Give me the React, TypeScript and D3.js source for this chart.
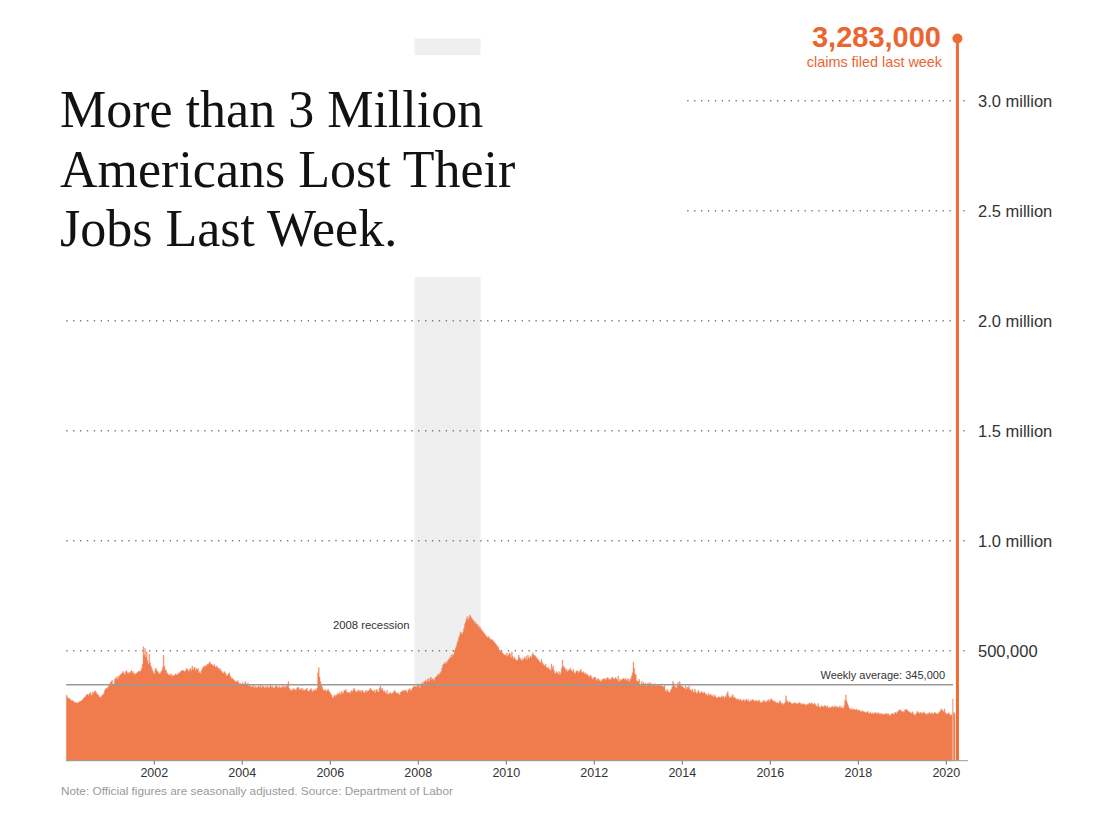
import { useEffect, useRef } from "react"
import * as d3 from "d3"

// Weekly initial jobless claims, thousands, seasonally adjusted
const claims2000 = [298, 290, 283, 285, 280, 276, 272, 275, 270, 268, 265, 262, 266, 262, 264, 268, 271, 270, 274, 278, 284, 288, 290, 296, 300, 303, 298, 305, 310, 302, 298, 312, 308, 315, 318, 310, 305, 300, 296, 290, 288, 292, 296, 300, 305, 318, 325, 330, 328, 335, 342, 348, 355]
const claims2001 = [360, 365, 345, 350, 370, 375, 380, 370, 385, 378, 388, 392, 395, 400, 405, 398, 392, 405, 410, 400, 398, 402, 398, 405, 410, 400, 405, 395, 392, 398, 398, 402, 405, 408, 405, 410, 420, 440, 518, 480, 510, 470, 495, 455, 440, 485, 445, 430, 420, 410, 400, 395]
const claims2002 = [415, 420, 410, 405, 400, 395, 398, 405, 410, 425, 480, 430, 415, 410, 400, 395, 390, 392, 388, 395, 385, 390, 385, 388, 395, 392, 390, 395, 400, 398, 405, 408, 410, 412, 408, 405, 410, 420, 415, 412, 405, 415, 420, 410, 430, 415, 420, 425, 410, 420, 415, 418]
const claims2003 = [400, 405, 398, 410, 420, 425, 430, 428, 435, 432, 440, 438, 445, 449, 440, 438, 435, 430, 438, 428, 425, 430, 425, 420, 415, 420, 410, 405, 400, 398, 405, 400, 392, 385, 390, 395, 400, 385, 378, 372, 375, 368, 365, 360, 362, 358, 365, 355, 350, 352, 348, 345]
const claims2004 = [355, 350, 345, 360, 350, 345, 352, 340, 345, 338, 335, 340, 336, 342, 330, 338, 335, 332, 340, 338, 335, 345, 332, 338, 340, 336, 330, 338, 334, 340, 335, 332, 338, 345, 335, 340, 332, 330, 335, 342, 338, 335, 332, 340, 330, 335, 330, 345, 335, 338, 332, 340]
const claims2005 = [338, 345, 360, 330, 320, 325, 318, 322, 328, 325, 322, 320, 330, 335, 332, 325, 322, 328, 330, 318, 325, 320, 322, 325, 330, 318, 315, 320, 325, 328, 318, 315, 322, 318, 325, 320, 330, 400, 423, 380, 360, 345, 335, 325, 320, 318, 322, 315, 320, 325, 318, 312, 305]
const claims2006 = [300, 290, 285, 295, 300, 292, 298, 305, 302, 305, 310, 300, 315, 310, 305, 320, 318, 325, 315, 310, 310, 312, 305, 315, 320, 315, 325, 330, 320, 315, 312, 318, 322, 315, 320, 312, 318, 320, 312, 308, 315, 320, 312, 318, 318, 322, 330, 325, 320, 318, 315, 322]
const claims2007 = [310, 320, 325, 315, 312, 330, 340, 325, 330, 320, 315, 318, 310, 305, 320, 300, 305, 308, 310, 303, 305, 310, 315, 320, 312, 308, 305, 310, 302, 300, 312, 312, 320, 315, 320, 318, 322, 315, 310, 320, 325, 328, 318, 322, 330, 335, 340, 335, 338, 335, 345, 350]
const claims2008 = [340, 330, 345, 350, 355, 348, 360, 362, 365, 358, 370, 372, 360, 375, 380, 368, 372, 370, 365, 378, 380, 385, 390, 395, 392, 400, 405, 420, 435, 440, 445, 440, 450, 445, 455, 460, 465, 470, 480, 470, 485, 480, 500, 510, 520, 535, 545, 560, 570, 585, 580, 575]
const claims2009 = [585, 600, 620, 630, 645, 655, 640, 650, 662, 658, 650, 645, 640, 635, 625, 630, 620, 620, 615, 605, 610, 600, 595, 590, 585, 580, 575, 570, 565, 560, 565, 560, 555, 550, 552, 548, 545, 540, 535, 530, 525, 520, 515, 505, 500, 498, 495, 490, 485, 480, 482, 478]
const claims2010 = [490, 475, 480, 490, 485, 470, 495, 475, 465, 470, 462, 458, 455, 460, 480, 470, 465, 460, 455, 465, 460, 470, 465, 475, 460, 480, 470, 465, 475, 470, 482, 490, 480, 478, 475, 470, 465, 460, 455, 450, 445, 460, 448, 440, 435, 430, 440, 425, 420, 425, 418, 415]
const claims2011 = [410, 440, 420, 430, 410, 400, 395, 405, 400, 395, 405, 390, 400, 420, 458, 430, 425, 420, 410, 415, 405, 410, 415, 420, 412, 410, 405, 415, 400, 395, 405, 410, 408, 400, 405, 410, 415, 402, 400, 405, 395, 400, 390, 395, 390, 385, 380, 390, 385, 375, 370, 380, 378]
const claims2012 = [380, 370, 365, 375, 370, 365, 360, 368, 365, 370, 372, 375, 368, 372, 378, 375, 370, 372, 368, 375, 380, 375, 370, 374, 378, 372, 368, 385, 360, 370, 365, 368, 370, 375, 372, 368, 375, 365, 370, 372, 360, 368, 375, 385, 400, 449, 420, 395, 390, 365, 360, 362]
const claims2013 = [370, 345, 340, 360, 350, 355, 345, 352, 348, 340, 352, 350, 355, 345, 352, 340, 348, 345, 344, 350, 340, 345, 342, 348, 345, 340, 350, 340, 338, 335, 342, 320, 315, 325, 318, 312, 310, 320, 325, 335, 360, 350, 340, 335, 330, 340, 355, 345, 360, 345, 340, 338]
const claims2014 = [335, 330, 328, 340, 325, 335, 330, 340, 325, 320, 318, 325, 315, 310, 325, 315, 305, 310, 320, 312, 305, 310, 315, 310, 305, 312, 308, 300, 302, 295, 305, 298, 302, 295, 300, 295, 290, 300, 295, 288, 285, 287, 292, 290, 285, 290, 295, 288, 292, 285, 295, 290]
const claims2015 = [305, 314, 295, 285, 290, 288, 295, 300, 285, 290, 285, 280, 278, 282, 278, 275, 280, 272, 275, 274, 278, 270, 275, 280, 272, 278, 270, 268, 275, 272, 278, 276, 275, 270, 272, 275, 268, 272, 276, 270, 265, 262, 268, 272, 275, 266, 270, 268, 272, 278, 270, 275]
const claims2016 = [282, 278, 275, 272, 268, 270, 265, 262, 265, 260, 268, 272, 265, 258, 262, 255, 260, 265, 295, 275, 268, 265, 270, 266, 262, 260, 258, 262, 265, 260, 262, 258, 261, 260, 265, 262, 258, 255, 260, 258, 255, 256, 252, 258, 255, 260, 262, 258, 265, 260, 255, 258, 262]
const claims2017 = [255, 250, 245, 260, 248, 245, 242, 250, 248, 245, 246, 252, 248, 245, 250, 242, 238, 245, 240, 244, 248, 242, 245, 250, 242, 248, 245, 242, 243, 250, 240, 245, 238, 240, 250, 275, 299, 270, 260, 250, 240, 235, 232, 238, 232, 234, 235, 230, 232, 235, 228, 230]
const claims2018 = [230, 225, 220, 228, 225, 224, 222, 220, 218, 220, 225, 218, 215, 220, 215, 212, 218, 215, 216, 220, 212, 218, 215, 218, 212, 215, 210, 215, 212, 208, 212, 213, 215, 210, 215, 210, 205, 208, 212, 215, 214, 210, 218, 220, 215, 222, 225, 228, 232, 230, 225, 222]
const claims2019 = [225, 220, 232, 230, 235, 228, 225, 222, 220, 218, 216, 222, 215, 210, 205, 212, 218, 225, 220, 215, 218, 220, 215, 217, 222, 218, 215, 210, 215, 212, 215, 220, 214, 212, 218, 215, 212, 220, 218, 215, 214, 212, 218, 222, 225, 236, 230, 228, 222, 235, 218, 215]
const claims2020 = [210, 215, 218, 212, 205, 208, 212, 218, 220, 215, 282]

const firstWeek = new Date(2000, 0, 1)
const lastWeek = { date: new Date(2020, 2, 21), value: 3283000 }
const weeklyAverage = 345000
const recession = [new Date(2007, 11, 1), new Date(2009, 5, 1)]

const yTicks = [500000, 1000000, 1500000, 2000000, 2500000, 3000000]
const yTickLabels = ["500,000", "1.0 million", "1.5 million", "2.0 million", "2.5 million", "3.0 million"]
const xTickYears = [2002, 2004, 2006, 2008, 2010, 2012, 2014, 2016, 2018, 2020]

const titleLines = ["More than 3 Million", "Americans Lost Their", "Jobs Last Week."]

const ORANGE = "#f07c4e"
const ORANGE_DARK = "#ee6b34"
const SANS = "'Liberation Sans', Arial, sans-serif"

export default function App() {
  const svgRef = useRef<SVGSVGElement>(null)

  useEffect(() => {
    document.body.style.margin = "0"
    if (!svgRef.current) return
    const svg = d3.select(svgRef.current)
    svg.selectAll("*").remove()

    const all = [
      ...claims2000, ...claims2001, ...claims2002, ...claims2003, ...claims2004,
      ...claims2005, ...claims2006, ...claims2007, ...claims2008, ...claims2009,
      ...claims2010, ...claims2011, ...claims2012, ...claims2013, ...claims2014,
      ...claims2015, ...claims2016, ...claims2017, ...claims2018, ...claims2019,
      ...claims2020,
    ]
    const weeks = all.map((v, i) => ({ date: d3.timeDay.offset(firstWeek, i * 7), value: v * 1000 }))
    const body = weeks.slice(0, -1)
    const prevWeek = weeks[weeks.length - 1]

    // scales: 44px per year, zero line at y=760.7
    const x = d3.scaleTime()
      .domain([new Date(2002, 0, 1), new Date(2020, 0, 1)])
      .range([154.3, 946.3])
    const y = d3.scaleLinear().domain([0, 3000000]).range([760.7, 100.7])

    const left = x(firstWeek)
    const right = 968

    // recession band
    svg.append("rect")
      .attr("x", x(recession[0]))
      .attr("width", x(recession[1]) - x(recession[0]))
      .attr("y", y(lastWeek.value))
      .attr("height", y(0) - y(lastWeek.value))
      .attr("fill", "#efefef")

    // gridlines
    const grid = svg.append("g")
    yTicks.forEach((t, i) => {
      grid.append("line")
        .attr("x1", left).attr("x2", right)
        .attr("y1", y(t)).attr("y2", y(t))
        .attr("stroke", "#777")
        .attr("stroke-width", 1.4)
        .attr("stroke-dasharray", "1.3,5.6")
      grid.append("text")
        .attr("x", 978)
        .attr("y", y(t) + 6)
        .attr("font-family", SANS)
        .attr("font-size", 16.5)
        .attr("fill", "#333")
        .text(yTickLabels[i])
    })

    // title block with white backing
    svg.append("rect")
      .attr("x", 40).attr("y", 55)
      .attr("width", 645).attr("height", 222)
      .attr("fill", "#fff")
    titleLines.forEach((line, i) => {
      svg.append("text")
        .attr("x", 60)
        .attr("y", 127 + i * 59.5)
        .attr("font-family", "'Liberation Serif', 'Times New Roman', serif")
        .attr("font-size", 52)
        .attr("fill", "#121212")
        .text(line)
    })

    // weekly claims area
    const area = d3.area<{ date: Date; value: number }>()
      .x((d) => x(d.date))
      .y0(y(0))
      .y1((d) => y(d.value))
      .curve(d3.curveStepAfter)
    const areaData = [...body, { date: prevWeek.date, value: body[body.length - 1].value }]
    svg.append("path")
      .datum(areaData)
      .attr("d", area)
      .attr("fill", ORANGE)
      .attr("stroke", "#f29a76")
      .attr("stroke-width", 0.4)

    // week before last, lighter
    svg.append("rect")
      .attr("x", x(prevWeek.date) - 3)
      .attr("width", 1.4)
      .attr("y", y(prevWeek.value))
      .attr("height", y(0) - y(prevWeek.value))
      .attr("fill", "#f1b096")

    // average line
    svg.append("line")
      .attr("x1", left).attr("x2", x(prevWeek.date) - 2)
      .attr("y1", y(weeklyAverage)).attr("y2", y(weeklyAverage))
      .attr("stroke", "#9a9a9a")
      .attr("stroke-width", 1.4)
    svg.append("text")
      .attr("x", 945)
      .attr("y", y(weeklyAverage) - 6)
      .attr("text-anchor", "end")
      .attr("font-family", SANS)
      .attr("font-size", 11)
      .attr("fill", "#333")
      .text(`Weekly average: ${d3.format(",")(weeklyAverage)}`)

    svg.append("text")
      .attr("x", x(recession[0]) - 5)
      .attr("y", 629)
      .attr("text-anchor", "end")
      .attr("font-family", SANS)
      .attr("font-size", 11.3)
      .attr("fill", "#333")
      .text("2008 recession")

    // last week spike
    const lx = x(lastWeek.date) + 1.5
    svg.append("rect")
      .attr("x", lx - 1.5)
      .attr("width", 3)
      .attr("y", y(lastWeek.value))
      .attr("height", y(0) - y(lastWeek.value))
      .attr("fill", ORANGE_DARK)
    svg.append("circle")
      .attr("cx", lx)
      .attr("cy", y(lastWeek.value))
      .attr("r", 5)
      .attr("fill", ORANGE_DARK)
    svg.append("text")
      .attr("x", 941)
      .attr("y", 47)
      .attr("text-anchor", "end")
      .attr("font-family", SANS)
      .attr("font-weight", 700)
      .attr("font-size", 29)
      .attr("fill", "#ea6530")
      .text(d3.format(",")(lastWeek.value))
    svg.append("text")
      .attr("x", 942)
      .attr("y", 67)
      .attr("text-anchor", "end")
      .attr("font-family", SANS)
      .attr("font-size", 14.4)
      .attr("fill", "#ea6530")
      .text("claims filed last week")

    // x axis
    svg.append("line")
      .attr("x1", left).attr("x2", right)
      .attr("y1", y(0)).attr("y2", y(0))
      .attr("stroke", "#999")
      .attr("stroke-width", 1)
    xTickYears.forEach((yr) => {
      const tx = x(new Date(yr, 0, 1))
      svg.append("line")
        .attr("x1", tx).attr("x2", tx)
        .attr("y1", y(0)).attr("y2", y(0) + 4)
        .attr("stroke", "#777")
      svg.append("text")
        .attr("x", tx)
        .attr("y", 777)
        .attr("text-anchor", "middle")
        .attr("font-family", SANS)
        .attr("font-size", 12.5)
        .attr("fill", "#333")
        .text(yr)
    })

    svg.append("text")
      .attr("x", 61)
      .attr("y", 795)
      .attr("font-family", SANS)
      .attr("font-size", 11.8)
      .attr("fill", "#999")
      .text("Note: Official figures are seasonally adjusted. Source: Department of Labor")
  }, [])

  return <svg ref={svgRef} width={1100} height={821} style={{ display: "block", background: "#fff" }} />
}
